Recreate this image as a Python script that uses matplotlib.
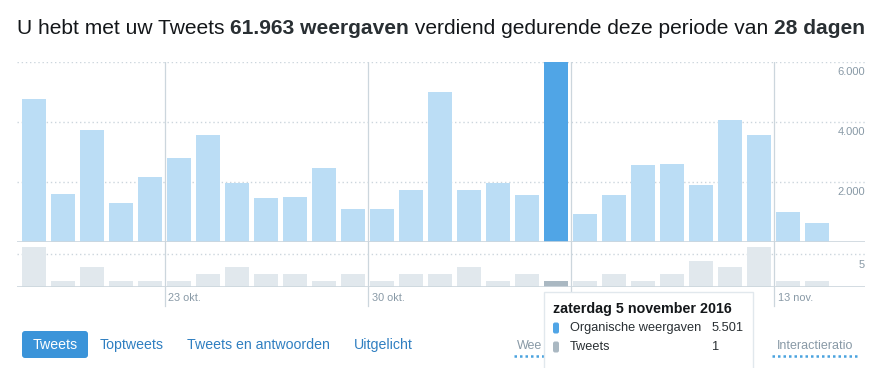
import matplotlib.pyplot as plt
from matplotlib.patches import Rectangle, FancyBboxPatch
from matplotlib.lines import Line2D
from matplotlib.transforms import IdentityTransform

# data (28 days, 18 okt - 14 nov 2016)
weergaven = [4780, 1610, 3740, 1310, 2180, 2810, 3580, 1980, 1480, 1510,
             2480, 1110, 1110, 1740, 5010, 1740, 1980, 1580, 6000, 940,
             1580, 2580, 2610, 1910, 4080, 3580, 1010, 640]
tweets = [6, 1, 3, 1, 1, 1, 2, 3, 2, 2, 1, 2, 1, 2, 2, 3, 1, 2, 1, 1,
          2, 1, 2, 4, 3, 6, 1, 1]
highlight = 18  # zaterdag 5 november
week_starts = [5, 12, 19, 26]
week_labels = ["23 okt.", "30 okt.", "6 nov.", "13 nov."]
y_ticks = [2000, 4000, 6000]
y_tick_labels = ["2.000", "4.000", "6.000"]

W, H = 876, 368
plt.rcParams["font.family"] = ["Liberation Sans", "DejaVu Sans"]
fig = plt.figure(figsize=(W / 100, H / 100), dpi=100)

GRID = "#ccd6dd"
LABEL = "#8899a6"


def px_axes(x0, y0, x1, y1):
    return fig.add_axes([x0 / W, 1 - y1 / H, (x1 - x0) / W, (y1 - y0) / H])


def clean(ax):
    for s in ax.spines.values():
        s.set_visible(False)
    ax.set_xticks([])
    ax.set_yticks([])
    ax.patch.set_alpha(0)


xs = list(range(len(weergaven)))
xlim = ((17 - 34) / 29, (865 - 34) / 29)
bw = 24 / 29

# top panel: impressions
ax = px_axes(17, 62.3, 865, 242.3)
clean(ax)
ax.set_xlim(*xlim)
ax.set_ylim(0, 6000)
cols = ["#50a5e6" if i == highlight else "#bbddf5" for i in xs]
ax.bar(xs, weergaven, width=bw, color=cols, zorder=2)
for v, lab in zip(y_ticks, y_tick_labels):
    ax.axhline(v, color=GRID, lw=1, ls=(0, (1, 2)), zorder=1)
    ax.annotate(lab, xy=(1, v), xycoords=("axes fraction", "data"),
                xytext=(0, -10), textcoords="offset pixels",
                ha="right", va="center", fontsize=8, color=LABEL)
ax.axhline(0, color=GRID, lw=1.2, zorder=3)
for w in week_starts:
    ax.axvline(w - 0.5, color=GRID, lw=0.9, zorder=1)

# bottom panel: tweets
bx = px_axes(17, 242.3, 865, 287.3)
clean(bx)
bx.set_xlim(*xlim)
bx.set_ylim(0, 6.75)
cols2 = ["#aab8c2" if i == highlight else "#e1e8ed" for i in xs]
bx.bar(xs, tweets, width=bw, color=cols2, zorder=2)
bx.axhline(5, color=GRID, lw=1, ls=(0, (1, 2)), zorder=1)
bx.annotate("5", xy=(1, 5), xycoords=("axes fraction", "data"),
            xytext=(0, -11), textcoords="offset pixels",
            ha="right", va="center", fontsize=8, color=LABEL)
bx.axhline(0, color=GRID, lw=1.2, zorder=3)
for w, lab in zip(week_starts, week_labels):
    bx.axvline(w - 0.5, ymin=-0.42, ymax=1, color=GRID, lw=0.9,
               zorder=1, clip_on=False)
    if lab != "6 nov.":  # hidden behind the tooltip in the reference
        bx.annotate(lab, xy=(w - 0.5, 0), xytext=(4, -11),
                    textcoords="offset pixels", ha="left", va="center",
                    fontsize=7.8, color=LABEL, annotation_clip=False)

# title with bold parts
renderer = fig.canvas.get_renderer()
parts = [("U hebt met uw Tweets ", "normal"), ("61.963 weergaven", "bold"),
         (" verdiend gedurende deze periode van ", "normal"),
         ("28 dagen", "bold")]
x = 17 / W
for s, wt in parts:
    t = fig.text(x, 1 - 28 / H, s, fontsize=15.1, fontweight=wt,
                 color="#14171a" if wt == "normal" else "#292f33",
                 ha="left", va="center")
    x += t.get_window_extent(renderer).width / W

# tabs
fig.add_artist(FancyBboxPatch((22, H - 358), 66, 27,
                              boxstyle="round,pad=0,rounding_size=3",
                              transform=IdentityTransform(),
                              facecolor="#3b94d9", edgecolor="none"))
fig.text(55 / W, 1 - 345 / H, "Tweets", fontsize=10.2, color="white",
         ha="center", va="center")
for s, x0 in [("Toptweets", 100), ("Tweets en antwoorden", 187),
              ("Uitgelicht", 354)]:
    fig.text(x0 / W, 1 - 345 / H, s, fontsize=10.2, color="#2f7fc1",
             ha="left", va="center")
for s, x0, u0, u1 in [("Wee", 517, 514, 544), ("Interactieratio", 777, 772, 857)]:
    fig.text(x0 / W, 1 - 346 / H, s, fontsize=9, color=LABEL,
             ha="left", va="center")
    fig.add_artist(Line2D([u0 / W, u1 / W], [1 - 356 / H] * 2,
                          color="#4aa3df", lw=1.8, ls=(0, (1, 1.2))))

# tooltip
fig.add_artist(Rectangle((544 / W, -0.02), (753 - 544) / W, 1 - 292 / H + 0.02,
                         transform=fig.transFigure, facecolor="white",
                         edgecolor="#e1e8ed", lw=1, zorder=10))
fig.text(553 / W, 1 - 309 / H, "zaterdag 5 november 2016", fontsize=10.3,
         fontweight="bold", color="#14171a", ha="left", va="center", zorder=11)
for (lab, val, c), yy in zip([("Organische weergaven", "5.501", "#50a5e6"),
                              ("Tweets", "1", "#aab8c2")], [328, 347]):
    fig.add_artist(FancyBboxPatch((553, H - yy - 5.5), 6, 11,
                                  boxstyle="round,pad=0,rounding_size=2",
                                  transform=IdentityTransform(),
                                  facecolor=c, edgecolor="none", zorder=11))
    fig.text(570 / W, 1 - yy / H, lab, fontsize=9.2, color="#292f33",
             ha="left", va="center", zorder=11)
    fig.text(712 / W, 1 - yy / H, val, fontsize=9.2, color="#292f33",
             ha="left", va="center", zorder=11)

fig.savefig("out.png", dpi=100)
